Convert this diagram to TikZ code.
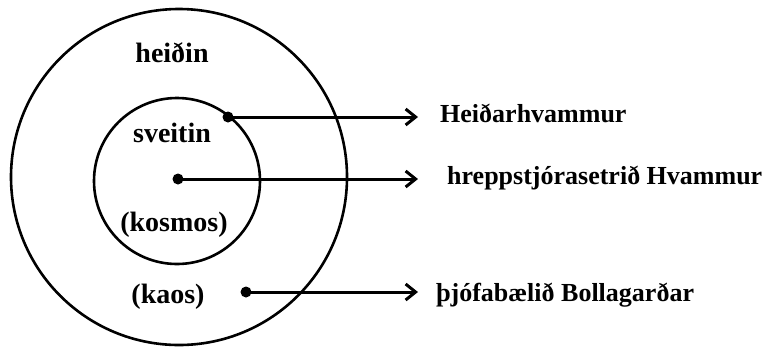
\documentclass[tikz,border=0pt]{standalone}
\usepackage{fontspec}
\setmainfont{Liberation Serif}
\usetikzlibrary{arrows.meta}
\begin{document}
\begin{tikzpicture}[x=1pt,y=-1pt,
  ring/.style={draw,line width=2.6pt},
  dot/.style={circle,fill,inner sep=0pt,minimum size=11pt},
  lbl/.style={font=\fontsize{26}{28}\selectfont\bfseries,inner sep=0pt},
  inlbl/.style={lbl,font=\fontsize{28}{30}\selectfont\bfseries},
  arr/.style={line width=3pt,-{Straight Barb[length=10pt,width=16pt,line width=3pt]}}]
\useasboundingbox (0,0) rectangle (770,346);
\draw[ring] (179,177) circle[radius=168];
\draw[ring] (177,181) circle[radius=83];
\node[inlbl] (heidin) at (172,53) {heiðin};
\node[inlbl] (sveitin) at (172,133) {sveitin};
\node[inlbl] (kosmos) at (174,225) {(kosmos)};
\node[inlbl] (kaos) at (168,297) {(kaos)};
\node[dot] (d1) at (228,117) {};
\node[dot] (d2) at (178,179) {};
\node[dot] (d3) at (246,292) {};
\node[lbl,anchor=west] (l1) at (440,113) {Heiðarhvammur};
\node[lbl,anchor=west] (l2) at (447,178) {hreppstjórasetrið Hvammur};
\node[lbl,anchor=west] (l3) at (436,295) {þjófabælið Bollagarðar};
\draw[arr] (d1.center) -- ([xshift=-22pt]d1 -| l1.west);
\draw[arr] (d2.center) -- ([xshift=-29pt]d2 -| l2.west);
\draw[arr] (d3.center) -- ([xshift=-18pt]d3 -| l3.west);
\end{tikzpicture}
\end{document}
